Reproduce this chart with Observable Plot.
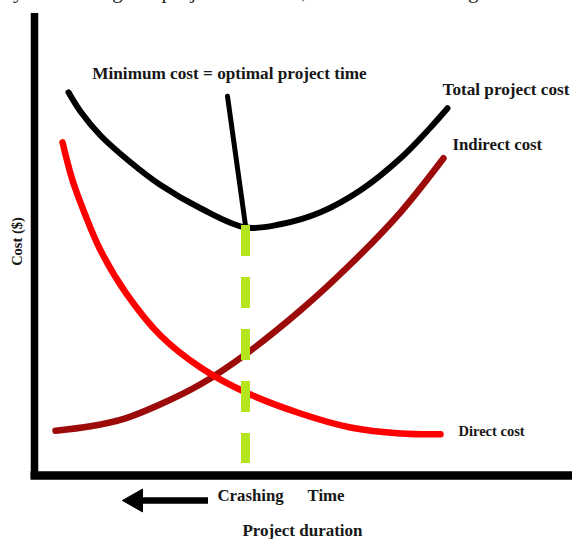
<!DOCTYPE html>
<html>
<head>
<meta charset="utf-8">
<script src="https://cdn.jsdelivr.net/npm/d3@7"></script>
<script src="https://cdn.jsdelivr.net/npm/@observablehq/plot@0.6"></script>
<style>
  html, body { margin: 0; padding: 0; background: #fff; }
  #wrap { position: relative; width: 572px; height: 539px; overflow: hidden; }
  #cut { position: absolute; left: 2px; top: -21px; line-height: 24px; font-family: "Liberation Serif", serif; font-size: 21px; color: #222; white-space: nowrap; letter-spacing: 0.4px; }
  #chart { position: absolute; left: 0; top: 0; }
</style>
</head>
<body>
<div id="wrap">
  <div id="cut">by decreasing the project duration, as shown in the figure below</div>
  <div id="chart"></div>
</div>
<script>
// Project duration (0-100) and cost (0-100)
const totalDur  = [6.8, 9.2, 13.2, 19.2, 25.2, 33.2, 42.2, 49.2, 57.2, 65.2, 73.2, 79.2, 82.6];
const totalCost = [95.8, 91.0, 85.0, 78.3, 72.6, 66.8, 62.0, 62.8, 65.8, 71.3, 79.3, 87.0, 91.8];

const indirectDur  = [4.2, 11.2, 18.2, 25.2, 33.2, 42.2, 53.2, 63.2, 73.2, 81.8];
const indirectCost = [11.2, 12.3, 14.3, 17.8, 22.8, 30.3, 41.3, 52.8, 65.8, 79.3];

const directDur  = [5.6, 7.6, 10.2, 13.2, 18.2, 25.2, 33.2, 42.2, 53.2, 63.2, 73.2, 81.2];
const directCost = [83.3, 73.8, 65.0, 56.3, 45.8, 35.0, 27.0, 20.8, 15.5, 12.0, 10.5, 10.3];

// optimum (minimum total cost) and pointer from its label
const optimalDur = 42.2;
const optimalCost = 62.5;
const pointerDur = [38.6, 42.2];
const pointerCost = [94.8, 62.5];
const dropFloor = 3;

// axis extents
const axisXExtent = [-0.7, 108];
const axisYExtent = [-0.8, 115.5];

// crashing arrow
const arrowShaftDur = [20, 34.8];
const arrowCost = -6.25;
const arrowHeadDur = [17.6, 21.6, 21.6, 17.6];
const arrowHeadCost = [-6.25, -3.4, -9.1, -6.25];

// labels
const labelText = ["Minimum cost = optimal project time", "Total project cost", "Indirect cost", "Direct cost", "Crashing", "Time", "Project duration"];
const labelDur  = [39.0, 81.6, 83.6, 84.8, 36.6, 54.6, 53.6];
const labelCost = [100.6, 96.5, 82.8, 11.0, -5.0, -5.0, -13.8];
const labelSize = [17.2, 17.2, 16.8, 14.5, 16.8, 16.8, 17.0];
const labelAnchor = ["middle", "start", "start", "start", "start", "start", "middle"];
const yLabel = "Cost ($)";

const pts = (xs, ys) => xs.map((x, i) => ({x, y: ys[i]}));

const marks = [
  Plot.line(pts(indirectDur, indirectCost), {x: "x", y: "y", stroke: "#9c0a0a", strokeWidth: 6.5, curve: "catmull-rom", strokeLinecap: "round"}),
  Plot.line(pts(directDur, directCost), {x: "x", y: "y", stroke: "#ff0000", strokeWidth: 6.5, curve: "catmull-rom", strokeLinecap: "round"}),
  Plot.line(pts(totalDur, totalCost), {x: "x", y: "y", stroke: "#000", strokeWidth: 6, curve: "catmull-rom", strokeLinecap: "round"}),
  Plot.line(pts(pointerDur, pointerCost), {x: "x", y: "y", stroke: "#000", strokeWidth: 5, strokeLinecap: "round"}),
  Plot.ruleX([optimalDur], {y1: optimalCost, y2: dropFloor, stroke: "#b5e61d", strokeWidth: 9, strokeDasharray: "31,21"}),
  Plot.ruleX([0], {y1: axisYExtent[0], y2: axisYExtent[1], stroke: "#000", strokeWidth: 7.5}),
  Plot.ruleY([0], {x1: axisXExtent[0], x2: axisXExtent[1], stroke: "#000", strokeWidth: 8.5}),
  Plot.ruleY([arrowCost], {x1: arrowShaftDur[0], x2: arrowShaftDur[1], stroke: "#000", strokeWidth: 6.5}),
  Plot.line(pts(arrowHeadDur, arrowHeadCost), {x: "x", y: "y", fill: "#000", stroke: "#000", strokeWidth: 1}),
  ...labelText.map((t, i) => Plot.text([t], {
    x: labelDur[i], y: labelCost[i], text: d => d,
    fontSize: labelSize[i], fontWeight: "bold", textAnchor: labelAnchor[i], fill: "#161616"
  })),
  Plot.text([yLabel], {x: -3.4, y: 58.5, text: d => d, rotate: -90, fontSize: 14.5, fontWeight: "bold", fill: "#161616"})
];

const chart = Plot.plot({
  width: 572,
  height: 539,
  margin: 0,
  x: {domain: [0, 100], range: [34, 534], axis: null},
  y: {domain: [0, 100], range: [475, 75], axis: null},
  style: {fontFamily: "'Liberation Serif', 'Times New Roman', serif", background: "transparent", overflow: "visible"},
  marks
});
document.getElementById("chart").appendChild(chart);
</script>
</body>
</html>
